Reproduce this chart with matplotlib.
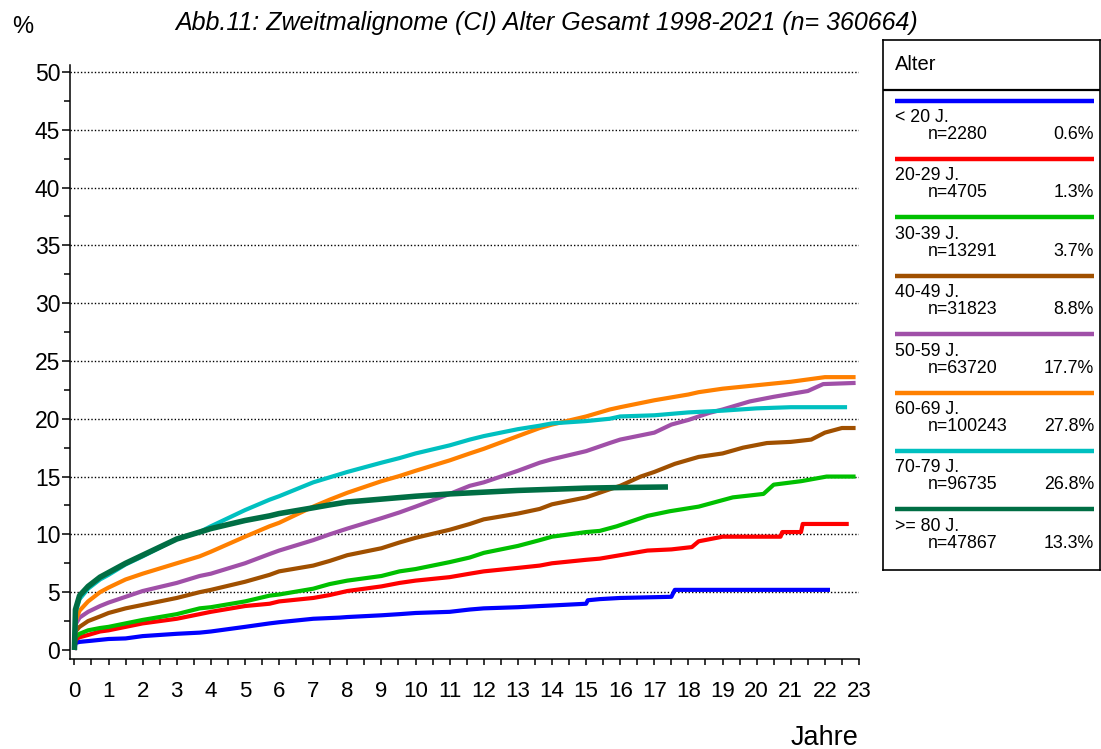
import matplotlib
matplotlib.use("Agg")
import matplotlib.pyplot as plt
from matplotlib.lines import Line2D
from matplotlib.ticker import MultipleLocator

plt.rcParams['font.family'] = ['Liberation Sans', 'DejaVu Sans']

# ---------------- data ----------------
groups = ["< 20 J.", "20-29 J.", "30-39 J.", "40-49 J.", "50-59 J.", "60-69 J.", "70-79 J.", ">= 80 J."]
n_vals = ["n=2280", "n=4705", "n=13291", "n=31823", "n=63720", "n=100243", "n=96735", "n=47867"]
pct_vals = ["0.6%", "1.3%", "3.7%", "8.8%", "17.7%", "27.8%", "26.8%", "13.3%"]
colors = ["#0000FF", "#FF0000", "#00C000", "#A05000", "#A050A8", "#FF8000", "#00C0C0", "#006E44"]

x_u20 = [0, 0.03, 0.15, 0.5, 1, 1.5, 2, 3, 3.67, 4, 5, 5.72, 6, 7, 7.77, 8, 9, 9.53, 10, 11, 11.59, 12, 13, 13.64, 14, 15, 15.05, 15.4, 16, 17.5, 17.6, 22.15]
y_u20 = [0, 0.6, 0.7, 0.8, 0.95, 1.0, 1.2, 1.4, 1.5, 1.6, 2.0, 2.3, 2.4, 2.7, 2.8, 2.85, 3.0, 3.1, 3.2, 3.3, 3.5, 3.6, 3.7, 3.8, 3.85, 4.0, 4.3, 4.4, 4.5, 4.6, 5.2, 5.2]

x_20 = [0, 0.03, 0.15, 0.4, 0.75, 1, 1.5, 2, 3, 3.67, 4, 5, 5.72, 6, 7, 7.48, 8, 9, 9.53, 10, 11, 11.59, 12, 13, 13.64, 14, 15, 15.4, 16, 16.8, 17.5, 18.1, 18.3, 19, 20.7, 20.75, 21.3, 21.35, 22.7]
y_20 = [0, 0.9, 1.1, 1.3, 1.6, 1.7, 2.0, 2.3, 2.7, 3.1, 3.3, 3.8, 4.0, 4.2, 4.5, 4.75, 5.1, 5.5, 5.8, 6.0, 6.3, 6.6, 6.8, 7.1, 7.3, 7.5, 7.8, 7.9, 8.2, 8.6, 8.7, 8.9, 9.4, 9.8, 9.8, 10.2, 10.2, 10.9, 10.9]

x_30 = [0, 0.03, 0.15, 0.4, 0.75, 1, 1.5, 2, 3, 3.67, 4, 5, 5.72, 6, 7, 7.48, 8, 9, 9.53, 10, 11, 11.59, 12, 13, 13.64, 14, 15, 15.4, 15.9, 16.8, 17.45, 18.3, 19.3, 20.2, 20.5, 21.3, 22.05, 22.9]
y_30 = [0, 1.1, 1.4, 1.7, 1.9, 2.0, 2.3, 2.6, 3.1, 3.6, 3.7, 4.2, 4.7, 4.8, 5.3, 5.7, 6.0, 6.4, 6.8, 7.0, 7.6, 8.0, 8.4, 9.0, 9.5, 9.8, 10.2, 10.3, 10.7, 11.6, 12.0, 12.4, 13.2, 13.5, 14.3, 14.6, 15.0, 15.0]

x_40 = [0, 0.03, 0.15, 0.4, 0.75, 1, 1.5, 2, 3, 3.67, 4, 5, 5.72, 6, 7, 7.48, 8, 9, 9.53, 10, 11, 11.59, 12, 13, 13.64, 14, 15, 15.69, 16, 16.6, 17, 17.6, 18.3, 19, 19.6, 20.3, 21, 21.6, 22, 22.5, 22.9]
y_40 = [0, 1.6, 2.0, 2.5, 2.9, 3.2, 3.6, 3.9, 4.5, 5.0, 5.2, 5.9, 6.5, 6.8, 7.3, 7.7, 8.2, 8.8, 9.3, 9.7, 10.4, 10.9, 11.3, 11.8, 12.2, 12.6, 13.2, 13.9, 14.2, 15.0, 15.4, 16.1, 16.7, 17.0, 17.5, 17.9, 18.0, 18.2, 18.8, 19.2, 19.2]

x_50 = [0, 0.03, 0.15, 0.4, 0.75, 1, 1.5, 2, 3, 3.67, 4, 5, 5.72, 6, 7, 7.48, 8, 9, 9.53, 10, 11, 11.59, 12, 13, 13.64, 14, 15, 15.69, 16, 17, 17.5, 18, 18.6, 19, 19.8, 20.5, 21.5, 21.95, 22.9]
y_50 = [0, 2.2, 2.8, 3.3, 3.8, 4.1, 4.6, 5.1, 5.8, 6.4, 6.6, 7.5, 8.3, 8.6, 9.5, 10.0, 10.5, 11.4, 11.9, 12.4, 13.5, 14.2, 14.5, 15.5, 16.2, 16.5, 17.2, 17.9, 18.2, 18.8, 19.5, 19.9, 20.5, 20.8, 21.5, 21.9, 22.4, 23.0, 23.1]

x_60 = [0, 0.03, 0.15, 0.4, 0.75, 1, 1.5, 2, 3, 3.67, 4, 5, 5.72, 6, 7, 7.48, 8, 9, 9.53, 10, 11, 11.59, 12, 13, 13.64, 14, 15, 15.69, 16, 17, 18, 18.3, 19, 20, 21, 22, 22.9]
y_60 = [0, 2.5, 3.4, 4.2, 5.0, 5.4, 6.1, 6.6, 7.5, 8.1, 8.5, 9.8, 10.7, 11.0, 12.4, 13.0, 13.6, 14.6, 15.05, 15.5, 16.4, 17.0, 17.4, 18.5, 19.2, 19.5, 20.2, 20.8, 21.0, 21.6, 22.1, 22.3, 22.6, 22.9, 23.2, 23.6, 23.6]

x_70 = [0, 0.03, 0.15, 0.4, 0.75, 1, 1.5, 2, 3, 3.67, 4, 5, 5.72, 6, 7, 8, 9, 9.53, 10, 11, 11.59, 12, 13, 13.64, 14, 15, 15.69, 16, 17, 18, 19, 20, 21, 22.65]
y_70 = [0, 3.2, 4.4, 5.3, 6.1, 6.5, 7.4, 8.1, 9.6, 10.2, 10.7, 12.1, 13.0, 13.3, 14.5, 15.4, 16.2, 16.6, 17.0, 17.7, 18.2, 18.5, 19.1, 19.4, 19.6, 19.8, 20.0, 20.2, 20.3, 20.55, 20.7, 20.9, 21.0, 21.0]

x_80 = [0, 0.03, 0.15, 0.4, 0.75, 1, 1.5, 2, 3, 3.67, 4, 5, 5.72, 6, 7, 7.48, 8, 9, 10, 11, 12, 13, 14, 15, 16, 17.4]
y_80 = [0, 3.5, 4.7, 5.5, 6.3, 6.7, 7.5, 8.2, 9.6, 10.2, 10.5, 11.2, 11.6, 11.8, 12.3, 12.55, 12.8, 13.05, 13.3, 13.5, 13.65, 13.8, 13.9, 14.0, 14.05, 14.1]

series_x = [x_u20, x_20, x_30, x_40, x_50, x_60, x_70, x_80]
series_y = [y_u20, y_20, y_30, y_40, y_50, y_60, y_70, y_80]

# ---------------- figure ----------------
W, H = 1101, 749
fig = plt.figure(figsize=(W / 100, H / 100), dpi=100)

ax_l, ax_r, ax_t, ax_b = 70, 859, 65, 659
ax = fig.add_axes([ax_l / W, 1 - ax_b / H, (ax_r - ax_l) / W, (ax_b - ax_t) / H])

for xs, ys, c in zip(series_x, series_y, colors):
    lw = 4.0 if c == "#006E44" else 3.0
    ax.plot(xs, ys, color=c, lw=lw, solid_capstyle='butt', solid_joinstyle='round', zorder=3)

ax.set_xlim(-0.13, 23.0)
ax.set_ylim(-0.78, 50.6)

for gy in range(5, 55, 5):
    ax.axhline(gy, color='black', lw=1.0, linestyle=(0, (1, 1.5)), zorder=1)

ax.xaxis.set_major_locator(MultipleLocator(1))
ax.xaxis.set_minor_locator(MultipleLocator(0.5))
ax.yaxis.set_major_locator(MultipleLocator(5))
ax.yaxis.set_minor_locator(MultipleLocator(2.5))

for s in ['top', 'right']:
    ax.spines[s].set_visible(False)
for s in ['left', 'bottom']:
    ax.spines[s].set_linewidth(1.1)

ax.tick_params(axis='x', which='both', direction='out', length=4, width=1.1, labelsize=16, pad=12)
ax.tick_params(axis='y', which='major', direction='out', length=6, width=1.1, labelsize=16.5, pad=1)
ax.tick_params(axis='y', which='minor', direction='out', length=4, width=1.1)

# titles / labels
fig.text(12 / W, 1 - 27 / H, "%", fontsize=17, ha='left', va='center')
fig.text(547 / W, 1 - 23 / H, "Abb.11: Zweitmalignome (CI) Alter Gesamt 1998-2021 (n= 360664)",
         fontsize=18, style='italic', ha='center', va='center')
fig.text(858 / W, 1 - 738 / H, "Jahre", fontsize=19.5, ha='right', va='center')

# ---------------- legend box ----------------
lx0, ly0, lx1, ly1 = 883, 40, 1100, 570
lax = fig.add_axes([lx0 / W, 1 - ly1 / H, (lx1 - lx0) / W, (ly1 - ly0) / H])
lax.set_xlim(lx0, lx1)
lax.set_ylim(ly1, ly0)
lax.set_xticks([])
lax.set_yticks([])
for s in lax.spines.values():
    s.set_linewidth(1.2)
    s.set_color('black')

lax.text(895, 64, "Alter", fontsize=14.5, ha='left', va='center')
lax.add_line(Line2D([lx0, lx1], [90, 90], color='black', lw=1.6))

for i, (g, nv, pv, c) in enumerate(zip(groups, n_vals, pct_vals, colors)):
    yl = 100.5 + i * 58.4
    lax.add_line(Line2D([895, 1094], [yl, yl], color=c, lw=3.2, solid_capstyle='butt'))
    lax.text(895, yl + 17, g, fontsize=12.8, ha='left', va='center')
    lax.text(928, yl + 34, nv, fontsize=12.8, ha='left', va='center')
    lax.text(1094, yl + 34, pv, fontsize=12.8, ha='right', va='center')

fig.savefig("out.png", dpi=100)
